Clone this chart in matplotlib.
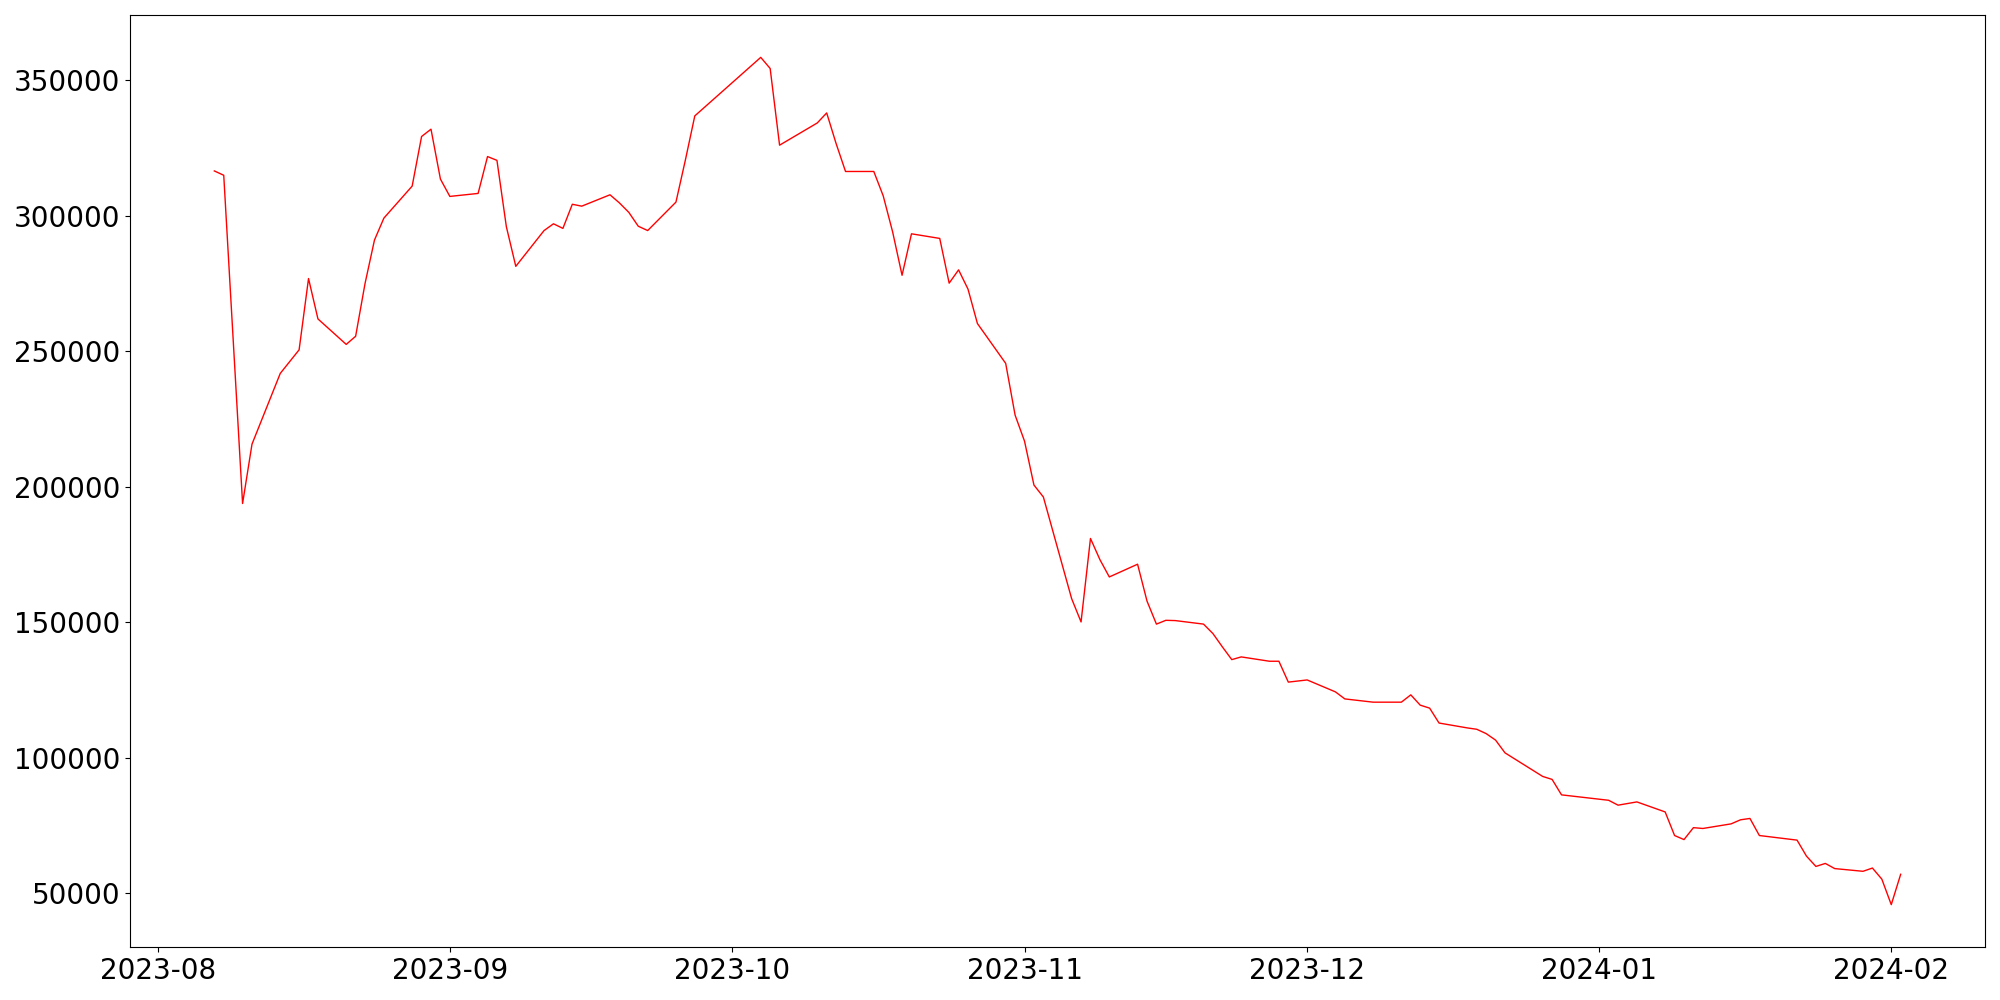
import pandas as pd
import matplotlib
matplotlib.use("Agg")
import matplotlib.pyplot as plt
import matplotlib.dates as mdates

dates = [
    "2023-08-07", "2023-08-08", "2023-08-10", "2023-08-11", "2023-08-14",
    "2023-08-16", "2023-08-17", "2023-08-18", "2023-08-21", "2023-08-22",
    "2023-08-23", "2023-08-24", "2023-08-25", "2023-08-28", "2023-08-29",
    "2023-08-30", "2023-08-31", "2023-09-01", "2023-09-04", "2023-09-05",
    "2023-09-06", "2023-09-07", "2023-09-08", "2023-09-11", "2023-09-12",
    "2023-09-13", "2023-09-14", "2023-09-15", "2023-09-18", "2023-09-19",
    "2023-09-20", "2023-09-21", "2023-09-22", "2023-09-25", "2023-09-26",
    "2023-09-27", "2023-10-04", "2023-10-05", "2023-10-06", "2023-10-10",
    "2023-10-11", "2023-10-12", "2023-10-13", "2023-10-16", "2023-10-17",
    "2023-10-18", "2023-10-19", "2023-10-20", "2023-10-23", "2023-10-24",
    "2023-10-25", "2023-10-26", "2023-10-27", "2023-10-30", "2023-10-31",
    "2023-11-01", "2023-11-02", "2023-11-03", "2023-11-06", "2023-11-07",
    "2023-11-08", "2023-11-09", "2023-11-10", "2023-11-13", "2023-11-14",
    "2023-11-15", "2023-11-16", "2023-11-17", "2023-11-20", "2023-11-21",
    "2023-11-22", "2023-11-23", "2023-11-24", "2023-11-27", "2023-11-28",
    "2023-11-29", "2023-12-01", "2023-12-04", "2023-12-05", "2023-12-08",
    "2023-12-11", "2023-12-12", "2023-12-13", "2023-12-14", "2023-12-15",
    "2023-12-18", "2023-12-19", "2023-12-20", "2023-12-21", "2023-12-22",
    "2023-12-26", "2023-12-27", "2023-12-28", "2024-01-02", "2024-01-03",
    "2024-01-05", "2024-01-08", "2024-01-09", "2024-01-10", "2024-01-11",
    "2024-01-12", "2024-01-15", "2024-01-16", "2024-01-17", "2024-01-18",
    "2024-01-22", "2024-01-23", "2024-01-24", "2024-01-25", "2024-01-26",
    "2024-01-29", "2024-01-30", "2024-01-31", "2024-02-01", "2024-02-02",
]

values = [
    316500, 314900, 193800, 215700, 241800,
    250500, 276800, 261900, 252500, 255500,
    275000, 291000, 299100, 310900, 329200,
    331900, 313500, 307100, 308200, 321800,
    320400, 295900, 281300, 294500, 297000,
    295300, 304200, 303500, 307700, 304700,
    301200, 296100, 294500, 305000, 320500,
    336800, 358400, 354300, 326000, 334200,
    337900, 326600, 316300, 316300, 307300,
    294000, 278000, 293300, 291600, 275100,
    280000, 272900, 260200, 245500, 226400,
    216800, 200600, 196200, 158700, 150100,
    180900, 173100, 166700, 171400, 157800,
    149300, 150700, 150600, 149300, 145800,
    140900, 136200, 137200, 135600, 135600,
    127900, 128700, 124300, 121700, 120500,
    120500, 123200, 119400, 118300, 112800,
    111000, 110500, 108900, 106500, 101800,
    93100, 92000, 86300, 84300, 82500,
    83700, 80000, 71300, 69800, 74200,
    73900, 75600, 77100, 77600, 71300,
    69600, 63700, 59900, 61000, 59100,
    58100, 59300, 55200, 45800, 57000,
]

df = pd.DataFrame({"date": pd.to_datetime(dates), "value": values})

fig, ax = plt.subplots(figsize=(20, 10), dpi=100)
ax.plot(df["date"], df["value"], color="red", linewidth=1)
ax.xaxis.set_major_locator(mdates.MonthLocator())
ax.xaxis.set_major_formatter(mdates.DateFormatter("%Y-%m"))
ax.tick_params(labelsize=20)
plt.subplots_adjust(left=0.065, right=0.9925, bottom=0.053, top=0.985)
plt.savefig("out.png")
